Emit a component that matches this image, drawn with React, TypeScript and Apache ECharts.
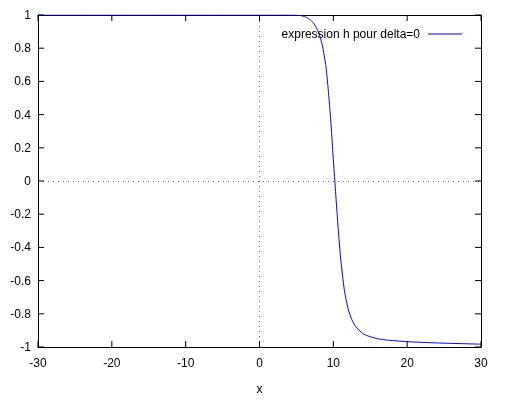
import React, { useEffect, useRef } from "react";
import * as echarts from "echarts";

const seriesName = "expression h pour delta=0";
const xs = [-30, -20, -10, 0, 3, 5, 5.5, 6, 6.5, 7, 7.5, 8, 8.5, 9, 9.25, 9.5, 9.75, 10, 10.25, 10.5, 10.75, 11, 11.5, 12, 12.5, 13, 14, 15, 16, 17, 18, 20, 22, 25, 30];
const ys = [1, 1, 1, 1, 1, 0.999, 0.997, 0.992, 0.982, 0.966, 0.94, 0.895, 0.82, 0.69, 0.58, 0.45, 0.3, 0.13, -0.03, -0.19, -0.34, -0.47, -0.66, -0.77, -0.835, -0.875, -0.92, -0.938, -0.95, -0.957, -0.961, -0.968, -0.972, -0.977, -0.983];
const xTickValues = [-30, -20, -10, 0, 10, 20, 30];
const yTickValues = [-1, -0.8, -0.6, -0.4, -0.2, 0, 0.2, 0.4, 0.6, 0.8, 1];

const FONT = "Liberation Sans, Arial, sans-serif";
const TICK = 6;

export default function App() {
  const ref = useRef<HTMLDivElement>(null);
  useEffect(() => {
    if (!ref.current) return;
    const chart = echarts.init(ref.current, null, { renderer: "svg" });
    const data = xs.map((x, i) => [x, ys[i]]);
    const tickStyle = { stroke: "#000", lineWidth: 1 };
    chart.setOption({
      animation: false,
      grid: { left: 38, right: 37, top: 15, bottom: 59 },
      legend: {
        right: 51,
        top: 23,
        align: "right",
        itemWidth: 34,
        itemHeight: 1,
        itemGap: 0,
        textStyle: { fontSize: 12, color: "#000", fontFamily: FONT, padding: [0, 3, 0, 0] },
        data: [{ name: seriesName, icon: "rect" }],
      },
      xAxis: [
        {
          type: "value",
          min: -30,
          max: 30,
          interval: 10,
          axisTick: { show: false },
          axisLine: { show: true, onZero: false, lineStyle: { color: "#000" } },
          splitLine: { show: false },
          axisLabel: { color: "#000", fontSize: 12, fontFamily: FONT, margin: 10 },
          name: "x",
          nameLocation: "middle",
          nameGap: 36,
          nameTextStyle: { color: "#000", fontSize: 12, fontFamily: FONT },
        },
        {
          type: "value",
          position: "top",
          min: -30,
          max: 30,
          interval: 10,
          axisTick: { show: false },
          axisLine: { show: true, onZero: false, lineStyle: { color: "#000" } },
          splitLine: { show: false },
          axisLabel: { show: false },
        },
      ],
      yAxis: [
        {
          type: "value",
          min: -1,
          max: 1,
          interval: 0.2,
          axisTick: { show: false },
          axisLine: { show: true, onZero: false, lineStyle: { color: "#000" } },
          splitLine: { show: false },
          axisLabel: {
            color: "#000",
            fontSize: 12,
            fontFamily: FONT,
            margin: 7,
            formatter: (v: number) => String(Math.round(v * 10) / 10),
          },
        },
        {
          type: "value",
          position: "right",
          min: -1,
          max: 1,
          interval: 0.2,
          axisTick: { show: false },
          axisLine: { show: true, onZero: false, lineStyle: { color: "#000" } },
          splitLine: { show: false },
          axisLabel: { show: false },
        },
      ],
      series: [
        {
          name: seriesName,
          type: "line",
          data,
          symbol: "none",
          smooth: 0.2,
          lineStyle: { color: "#0000ff", width: 1 },
          itemStyle: { color: "#0000ff" },
          markLine: {
            silent: true,
            symbol: "none",
            label: { show: false },
            lineStyle: { color: "#666", width: 1, type: [1, 4] },
            data: [{ xAxis: 0 }, { yAxis: 0 }],
          },
        },
        {
          name: "xticks",
          type: "custom",
          silent: true,
          z: 5,
          data: xTickValues.map((v) => [v, 0]),
          renderItem: (params: any, api: any) => {
            const v = api.value(0);
            const b = api.coord([v, -1]);
            const t = api.coord([v, 1]);
            return {
              type: "group",
              children: [
                { type: "line", shape: { x1: b[0], y1: b[1], x2: b[0], y2: b[1] - TICK }, style: tickStyle },
                { type: "line", shape: { x1: t[0], y1: t[1], x2: t[0], y2: t[1] + TICK }, style: tickStyle },
              ],
            };
          },
        },
        {
          name: "yticks",
          type: "custom",
          silent: true,
          z: 5,
          data: yTickValues.map((v) => [0, v]),
          renderItem: (params: any, api: any) => {
            const v = api.value(1);
            const l = api.coord([-30, v]);
            const r = api.coord([30, v]);
            return {
              type: "group",
              children: [
                { type: "line", shape: { x1: l[0], y1: l[1], x2: l[0] + TICK, y2: l[1] }, style: tickStyle },
                { type: "line", shape: { x1: r[0], y1: r[1], x2: r[0] - TICK, y2: r[1] }, style: tickStyle },
              ],
            };
          },
        },
      ],
    });
    return () => chart.dispose();
  }, []);
  return <div ref={ref} style={{ position: "fixed", left: 0, top: 0, width: 518, height: 406 }} />;
}
